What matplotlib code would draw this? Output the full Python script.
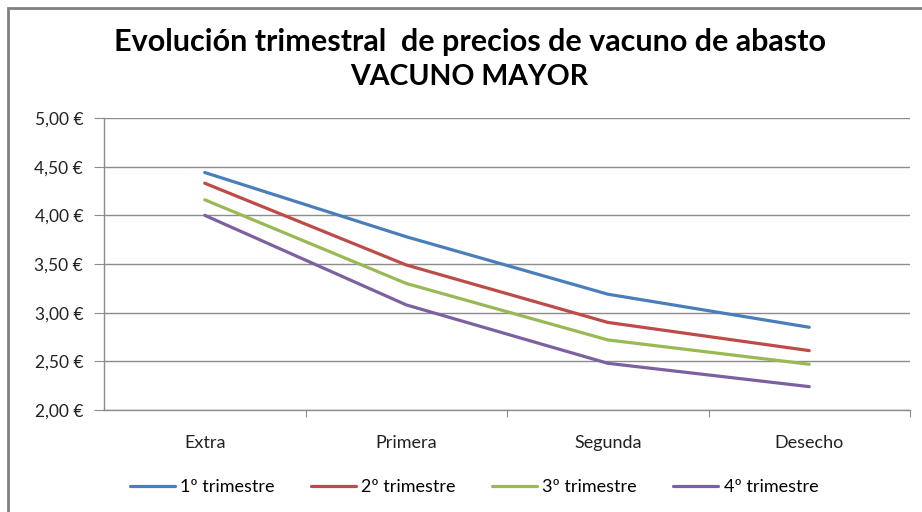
import matplotlib.pyplot as plt
from matplotlib.patches import Rectangle

categories = ["Extra", "Primera", "Segunda", "Desecho"]
series = ["1º trimestre", "2º trimestre", "3º trimestre", "4º trimestre"]
t1 = [4.44, 3.78, 3.19, 2.85]
t2 = [4.33, 3.49, 2.90, 2.61]
t3 = [4.16, 3.30, 2.72, 2.47]
t4 = [4.00, 3.08, 2.48, 2.24]
yticks = [2.0, 2.5, 3.0, 3.5, 4.0, 4.5, 5.0]

colors = ["#4A7EBB", "#BE4B48", "#98B954", "#7D60A0"]
grid_c = "#8C8C8C"

plt.rcParams['font.family'] = ['Lato', 'DejaVu Sans']

fig = plt.figure(figsize=(9.22, 5.12), dpi=100)
ax = fig.add_axes([104 / 922, 1 - 410 / 512, 806 / 922, 292 / 512])

x = range(len(categories))
for vals, name, c in zip([t1, t2, t3, t4], series, colors):
    ax.plot(x, vals, color=c, lw=2.3, label=name, solid_capstyle='round')

ax.set_xlim(-0.5, 3.5)
ax.set_ylim(2.0, 5.0)
ax.set_yticks(yticks)
ax.set_yticklabels([f"{v:.2f} €".replace(".", ",") for v in yticks], fontsize=12.5, color="#222222")
ax.set_xticks([0.5, 1.5, 2.5, 3.5], minor=False)
ax.set_xticklabels([])
ax.set_xticks(list(x), minor=True)
ax.set_xticklabels(categories, minor=True, fontsize=13, color="#222222")
ax.tick_params(axis='x', which='major', length=5, color=grid_c, direction='out')
ax.tick_params(axis='x', which='minor', length=0, pad=18)
ax.tick_params(axis='y', length=7, color=grid_c, pad=8)
ax.yaxis.grid(True, color=grid_c, lw=1)
ax.set_axisbelow(True)
for s in ["top", "right"]:
    ax.spines[s].set_visible(False)
for s in ["left", "bottom"]:
    ax.spines[s].set_color(grid_c)
    ax.spines[s].set_linewidth(1)

fig.text(470 / 922, 1 - 42 / 512, "Evolución trimestral  de precios de vacuno de abasto",
         ha='center', va='center', fontsize=22, fontweight='bold')
fig.text(469 / 922, 1 - 77 / 512, "VACUNO MAYOR",
         ha='center', va='center', fontsize=20.5, fontweight='bold')

fig.legend(loc='center', bbox_to_anchor=(474 / 922, 1 - 487 / 512), ncol=4,
           frameon=False, fontsize=13, handlelength=2.5, handletextpad=0.3,
           columnspacing=2.0)

fig.patches.append(Rectangle((8 / 922, -0.1), 1.2, 1 - 7.5 / 512 + 0.1, transform=fig.transFigure,
                             fill=False, edgecolor="#808080", lw=2))

fig.savefig("out.png", dpi=100)
